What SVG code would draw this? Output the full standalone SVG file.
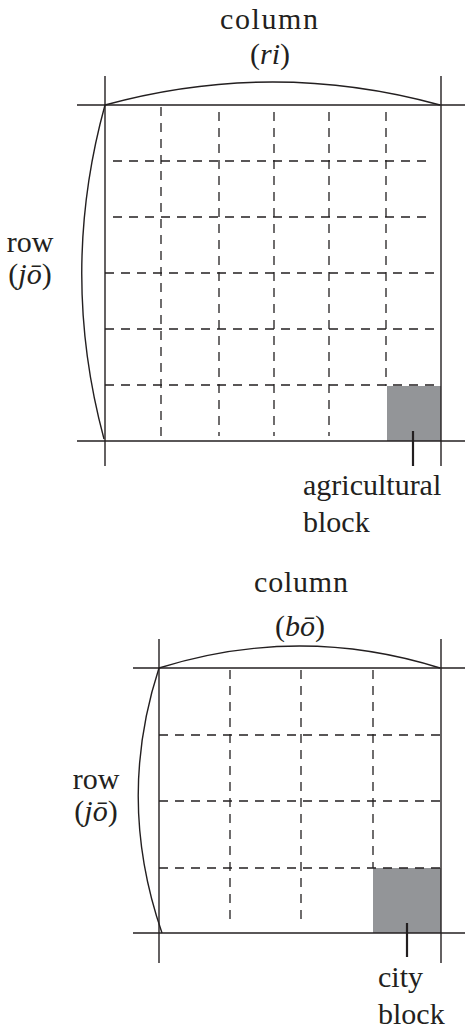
<svg xmlns="http://www.w3.org/2000/svg" width="465" height="1032" viewBox="0 0 465 1032">
<style>
.solid{stroke:#231f20;stroke-width:1.4;fill:none}
.arc{stroke:#231f20;stroke-width:1.4;fill:none}
.dash{stroke:#231f20;stroke-width:1.3;fill:none;stroke-dasharray:9 7}
.lead{stroke:#231f20;stroke-width:2.2}
.blk{fill:#939598}
.lbl{font-size:30px;fill:#231f20}
.it{font-style:italic}
</style>
<rect width="465" height="1032" fill="#ffffff"/>

<g id="grid1">
  <rect class="blk" x="387" y="386" width="54" height="55"/>
  <g class="dash">
    <line x1="161" y1="107" x2="161" y2="441"/>
    <line x1="219" y1="112" x2="219" y2="436"/>
    <line x1="274" y1="112" x2="274" y2="436"/>
    <line x1="329" y1="112" x2="329" y2="436"/>
    <line x1="386" y1="112" x2="386" y2="386"/>
    <line x1="113" y1="161" x2="433" y2="161"/>
    <line x1="113" y1="217" x2="433" y2="217"/>
    <line x1="105" y1="273" x2="438" y2="273"/>
    <line x1="105" y1="329" x2="438" y2="329"/>
    <line x1="105" y1="385" x2="438" y2="385"/>
  </g>
  <g class="solid">
    <line x1="77" y1="105" x2="465" y2="105"/>
    <line x1="77" y1="441" x2="465" y2="441"/>
    <line x1="105" y1="76" x2="105" y2="466"/>
    <line x1="441" y1="76" x2="441" y2="466"/>
  </g>
</g>

<g id="labels1" class="lbl" font-family="Liberation Serif, Times New Roman, DejaVu Serif, serif">
  <text x="269" y="29" text-anchor="middle" textLength="98" lengthAdjust="spacing">column</text>
  <text x="270" y="64" text-anchor="middle">(<tspan class="it">ri</tspan>)</text>
  <text x="30" y="252" text-anchor="middle">row</text>
  <text x="30" y="284" text-anchor="middle">(<tspan class="it">jō</tspan>)</text>
  <text x="303" y="495">agricultural</text>
  <text x="303" y="532">block</text>
</g>

<g id="grid2">
  <rect class="blk" x="373" y="868" width="68" height="65"/>
  <g class="dash">
    <line x1="230" y1="670" x2="230" y2="924"/>
    <line x1="301" y1="670" x2="301" y2="924"/>
    <line x1="373" y1="670" x2="373" y2="868"/>
    <line x1="159" y1="735" x2="441" y2="735"/>
    <line x1="159" y1="801" x2="441" y2="801"/>
    <line x1="159" y1="868" x2="441" y2="868"/>
  </g>
  <g class="solid">
    <line x1="133" y1="668" x2="465" y2="668"/>
    <line x1="133" y1="933" x2="465" y2="933"/>
    <line x1="159" y1="639" x2="159" y2="963"/>
    <line x1="441" y1="639" x2="441" y2="963"/>
  </g>
</g>

<g id="labels2" class="lbl" font-family="Liberation Serif, Times New Roman, DejaVu Serif, serif">
  <text x="301" y="592" text-anchor="middle" textLength="94" lengthAdjust="spacing">column</text>
  <text x="300" y="636" text-anchor="middle">(<tspan class="it">bō</tspan>)</text>
  <text x="96" y="789" text-anchor="middle">row</text>
  <text x="96" y="821" text-anchor="middle">(<tspan class="it">jō</tspan>)</text>
  <text x="378" y="987">city</text>
  <text x="378" y="1024">block</text>
</g>

<g id="connectors">
  <path class="arc" d="M105,105 Q273,59 440,105"/>
  <path class="arc" d="M105,105 Q59,272 104,439"/>
  <line class="lead" x1="413" y1="431" x2="413" y2="466"/>
  <path class="arc" d="M159,668 Q300,624 440,668"/>
  <path class="arc" d="M159,668 Q116,800 162,933"/>
  <line class="lead" x1="407" y1="923" x2="407" y2="957"/>
</g>
</svg>
